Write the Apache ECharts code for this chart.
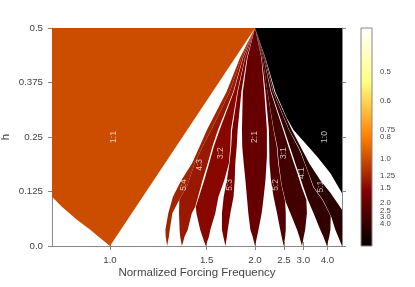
<!DOCTYPE html>
<html><head><meta charset="utf-8">
<script src="https://cdn.jsdelivr.net/npm/echarts@6/dist/echarts.min.js"></script>
<style>html,body{margin:0;padding:0;background:#fff}#c{width:415px;height:287px}</style>
</head><body><div id="c"></div>
<script>
// Horizontal values are period ratios w = 1/f (f = normalized forcing frequency); vertical is h.
const freqTicks = [1.0, 1.5, 2.0, 2.5, 3.0, 4.0];
const hTicks = [0, 0.125, 0.25, 0.375, 0.5];
const colorbarTicks = [0.5, 0.6, 0.75, 0.8, 1.0, 1.25, 1.5, 2.0, 2.5, 3.0, 4.0];

const tongueNames   = ['1:0', '1:1', '5:4', '4:3', '3:2', '5:3', '2:1', '5:2', '3:1', '4:1', '5:1'];
const tongueWinding = [0, 1, 0.8, 0.75, 2/3, 0.6, 0.5, 0.4, 1/3, 0.25, 0.2];
const labelW = [0.261, 0.988, 0.747, 0.691, 0.620, 0.588, 0.500, 0.430, 0.401, 0.338, 0.275];
const labelH = [0.25, 0.25, 0.14, 0.186, 0.213, 0.14, 0.25, 0.14, 0.213, 0.167, 0.136];

const tongue_1_0 = [[0.5,0.5],[0.15,0.5],[0.15,0.07],[0.2,0.121],[0.24,0.167],[0.286,0.205],[0.367,0.266],[0.39,0.293],[0.43,0.354],[0.464,0.431]];
const tongue_1_1 = [[1.25,0.5],[0.5,0.5],[1.0,0],[1.033,0.018],[1.068,0.037],[1.114,0.06],[1.166,0.09],[1.2,0.113],[1.25,0.13]];
const tongue_5_4 = [[0.803,0],[0.808,0.021],[0.809,0.037],[0.799,0.075],[0.783,0.113],[0.754,0.151],[0.717,0.19],[0.691,0.228],[0.666,0.266],[0.598,0.354],[0.552,0.431],[0.5,0.5],[0.547,0.431],[0.587,0.354],[0.651,0.266],[0.681,0.228],[0.708,0.19],[0.733,0.14],[0.761,0.106],[0.785,0.075],[0.794,0.037],[0.797,0.021]];
const tongue_4_3 = [[0.752,0],[0.758,0.021],[0.76,0.037],[0.762,0.075],[0.761,0.106],[0.733,0.14],[0.708,0.19],[0.681,0.228],[0.651,0.266],[0.587,0.354],[0.547,0.431],[0.5,0.5],[0.542,0.431],[0.575,0.354],[0.628,0.266],[0.647,0.228],[0.663,0.19],[0.681,0.151],[0.706,0.09],[0.718,0.075],[0.732,0.037],[0.743,0.021]];
const tongue_3_2 = [[0.67,0],[0.681,0.021],[0.689,0.037],[0.702,0.075],[0.704,0.09],[0.675,0.151],[0.658,0.19],[0.642,0.228],[0.622,0.266],[0.573,0.354],[0.541,0.431],[0.5,0.5],[0.535,0.431],[0.561,0.354],[0.583,0.266],[0.585,0.228],[0.59,0.19],[0.606,0.151],[0.626,0.113],[0.637,0.075],[0.654,0.037],[0.659,0.021]];
const tongue_5_3 = [[0.602,0],[0.609,0.021],[0.614,0.037],[0.614,0.075],[0.608,0.113],[0.597,0.151],[0.588,0.19],[0.582,0.228],[0.579,0.266],[0.559,0.354],[0.534,0.431],[0.5,0.5],[0.528,0.431],[0.547,0.354],[0.56,0.266],[0.563,0.228],[0.568,0.19],[0.57,0.151],[0.574,0.113],[0.585,0.075],[0.594,0.037],[0.597,0.021]];
const tongue_2_1 = [[0.5,0],[0.508,0.021],[0.516,0.037],[0.523,0.075],[0.528,0.113],[0.533,0.151],[0.539,0.19],[0.544,0.228],[0.545,0.266],[0.542,0.354],[0.526,0.431],[0.5,0.5],[0.478,0.431],[0.468,0.354],[0.459,0.266],[0.459,0.205],[0.464,0.151],[0.47,0.113],[0.477,0.075],[0.488,0.037],[0.493,0.021]];
const tongue_5_2 = [[0.401,0],[0.408,0.021],[0.413,0.037],[0.424,0.075],[0.436,0.113],[0.445,0.151],[0.45,0.19],[0.451,0.228],[0.452,0.266],[0.464,0.354],[0.477,0.431],[0.5,0.5],[0.474,0.431],[0.457,0.354],[0.436,0.266],[0.425,0.228],[0.42,0.19],[0.409,0.14],[0.396,0.102],[0.394,0.075],[0.394,0.037],[0.396,0.021]];
const tongue_3_1 = [[0.338,0],[0.347,0.021],[0.355,0.037],[0.378,0.075],[0.394,0.101],[0.408,0.14],[0.418,0.19],[0.423,0.228],[0.435,0.266],[0.457,0.354],[0.474,0.431],[0.5,0.5],[0.47,0.431],[0.446,0.354],[0.403,0.266],[0.385,0.228],[0.366,0.19],[0.354,0.167],[0.339,0.135],[0.323,0.106],[0.321,0.075],[0.327,0.037],[0.332,0.021]];
const tongue_4_1 = [[0.252,0],[0.264,0.021],[0.275,0.037],[0.298,0.075],[0.318,0.106],[0.333,0.135],[0.349,0.167],[0.361,0.19],[0.38,0.228],[0.399,0.266],[0.444,0.354],[0.47,0.431],[0.5,0.5],[0.467,0.431],[0.438,0.354],[0.383,0.266],[0.353,0.228],[0.344,0.216],[0.329,0.19],[0.316,0.167],[0.299,0.135],[0.268,0.106],[0.239,0.069],[0.24,0.037],[0.244,0.021]];
const tongue_5_1 = [[0.2,0],[0.213,0.021],[0.223,0.037],[0.237,0.067],[0.266,0.106],[0.297,0.135],[0.315,0.167],[0.328,0.19],[0.342,0.216],[0.351,0.228],[0.382,0.266],[0.437,0.354],[0.467,0.431],[0.5,0.5],[0.465,0.431],[0.433,0.354],[0.373,0.266],[0.313,0.19],[0.275,0.151],[0.24,0.122],[0.2,0.083],[0.154,0.048],[0.19,0]];

const tongues = [tongue_1_0, tongue_1_1, tongue_5_4, tongue_4_3, tongue_3_2, tongue_5_3, tongue_2_1, tongue_5_2, tongue_3_1, tongue_4_1, tongue_5_1];

const W_MAX = 2.5; // colour range of the colorbar (period ratio 0 .. 2.5)
function afmhot(t) {
  const c = v => Math.round(255 * Math.min(1, Math.max(0, v)));
  return 'rgb(' + c(2 * t) + ',' + c(2 * t - 0.5) + ',' + c(2 * t - 1) + ')';
}
function fmtF(v) {
  const f = Math.round(100 / v) / 100;
  return Math.abs(f * 10 - Math.round(f * 10)) < 1e-6 ? f.toFixed(1) : f.toFixed(2);
}

const FONT = '"Liberation Sans", Arial, sans-serif';
const TXT = '#444';
const LINE = '#888';
const freqVals = freqTicks.map(f => 1 / f);
const cbVals = colorbarTicks.map(f => 1 / f);

const chart = echarts.init(document.getElementById('c'), null, {renderer: 'canvas'});
chart.setOption({
  animation: false,
  backgroundColor: '#fff',
  grid: [
    {left: 52, top: 28, width: 290, height: 218, containLabel: false, outerBoundsMode: 'none'},
    {left: 361, top: 28, width: 11, height: 218, containLabel: false, outerBoundsMode: 'none'}
  ],
  xAxis: [
    {gridIndex: 0, type: 'value', min: 0.2, max: 1.2, inverse: true, position: 'bottom',
     name: 'Normalized Forcing Frequency', nameLocation: 'middle', nameGap: 21, nameMoveOverlap: false,
     nameTextStyle: {fontFamily: FONT, fontSize: 11.5, color: TXT},
     axisLine: {show: true, lineStyle: {color: LINE, width: 1}},
     axisTick: {show: true, customValues: freqVals, length: 4, lineStyle: {color: LINE}},
     axisLabel: {customValues: freqVals, hideOverlap: false, formatter: v => fmtF(v), fontFamily: FONT, fontSize: 9.7, color: TXT, margin: 9},
     splitLine: {show: false}},
    {gridIndex: 0, type: 'value', min: 0.2, max: 1.2, inverse: true, position: 'top',
     axisLine: {show: true, lineStyle: {color: LINE, width: 1}},
     axisTick: {show: true, customValues: freqVals, length: 4, lineStyle: {color: LINE}},
     axisLabel: {show: false}, splitLine: {show: false}},
    {gridIndex: 1, type: 'value', min: 0, max: 1, show: false}
  ],
  yAxis: [
    {gridIndex: 0, type: 'value', min: 0, max: 0.5, interval: 0.125, position: 'left',
     name: 'h', nameLocation: 'middle', nameGap: 40, nameMoveOverlap: false,
     nameTextStyle: {fontFamily: FONT, fontSize: 11.5, color: TXT},
     axisLine: {show: true, lineStyle: {color: LINE, width: 1}},
     axisTick: {show: true, length: 4, lineStyle: {color: LINE}},
     axisLabel: {hideOverlap: false, formatter: v => (v === 0 ? '0.0' : String(v)), fontFamily: FONT, fontSize: 9.7, color: TXT, margin: 9},
     splitLine: {show: false}},
    {gridIndex: 0, type: 'value', min: 0, max: 0.5, interval: 0.125, position: 'right',
     axisLine: {show: true, lineStyle: {color: LINE, width: 1}},
     axisTick: {show: true, length: 4, lineStyle: {color: LINE}},
     axisLabel: {show: false}, splitLine: {show: false}},
    {gridIndex: 1, type: 'value', min: 0, max: W_MAX, position: 'right',
     axisLine: {show: false},
     axisTick: {show: true, customValues: cbVals, length: 3, lineStyle: {color: LINE}},
     axisLabel: {show: false},
     splitLine: {show: false}}
  ],
  series: [
    {type: 'custom', xAxisIndex: 0, yAxisIndex: 0, clip: true, silent: true, z: 1,
     data: tongueNames.map((n, i) => [labelW[i], labelH[i]]),
     renderItem: (params, api) => {
       const i = params.dataIndex;
       return {type: 'polygon',
               shape: {points: tongues[i].map(p => api.coord(p))},
               style: {fill: afmhot(tongueWinding[i] / W_MAX), stroke: null}};
     }},
    {type: 'custom', xAxisIndex: 0, yAxisIndex: 0, clip: true, silent: true, z: 3,
     data: tongueNames.map((n, i) => [labelW[i], labelH[i]]),
     renderItem: (params, api) => {
       const i = params.dataIndex;
       const p = api.coord([labelW[i], labelH[i]]);
       return {type: 'text', x: p[0], y: p[1], rotation: Math.PI / 2,
               style: {text: tongueNames[i], x: 0, y: 0, fill: 'rgba(255,255,255,0.72)',
                       font: '8.5px ' + FONT, align: 'center', verticalAlign: 'middle'}};
     }},
    {type: 'custom', xAxisIndex: 2, yAxisIndex: 2, silent: true, z: 1,
     data: [[0.5, W_MAX / 2]],
     renderItem: (params, api) => {
       const p0 = api.coord([0, 0]);
       const p1 = api.coord([1, W_MAX]);
       return {type: 'rect',
               shape: {x: p0[0], y: p1[1], width: p1[0] - p0[0], height: p0[1] - p1[1]},
               style: {fill: new echarts.graphic.LinearGradient(0, 1, 0, 0, [
                         {offset: 0, color: afmhot(0)}, {offset: 0.25, color: afmhot(0.25)},
                         {offset: 0.5, color: afmhot(0.5)}, {offset: 0.75, color: afmhot(0.75)},
                         {offset: 1, color: afmhot(1)}]),
                       stroke: LINE, lineWidth: 1}};
     }},
    {type: 'custom', xAxisIndex: 2, yAxisIndex: 2, silent: true, z: 2,
     data: cbVals.map(v => [1, v]),
     renderItem: (params, api) => {
       const v = cbVals[params.dataIndex];
       const p = api.coord([1, v]);
       return {type: 'text', x: p[0] + 8, y: p[1],
               style: {text: fmtF(v), x: 0, y: 0, fill: TXT,
                       font: '7.8px ' + FONT, align: 'left', verticalAlign: 'middle'}};
     }}
  ]
});
</script></body></html>
